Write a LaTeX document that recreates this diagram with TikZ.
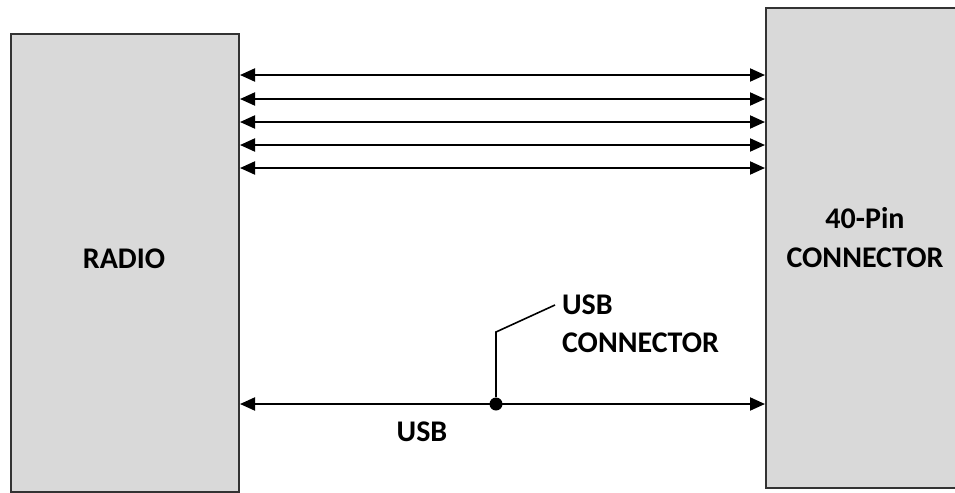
\documentclass[tikz,border=0pt]{standalone}
\usepackage{fontspec}
\setmainfont{Carlito}
\usetikzlibrary{arrows.meta,positioning}

\begin{document}
\begin{tikzpicture}[x=0.5pt, y=-0.5pt,
    block/.style={draw=black!80, fill=black!15, line width=1pt, inner sep=0pt},
    bus/.style={line width=1pt, {Triangle[length=7.5pt,width=6.5pt]}-{Triangle[length=7.5pt,width=6.5pt]}},
    lbl/.style={font=\fontsize{15}{19.5}\selectfont\bfseries, align=center},
    dot/.style={circle, fill, inner sep=0pt, minimum size=6.5pt}]
  \useasboundingbox (0,0) rectangle (955,493);
  \clip (0,0) rectangle (955,493);

  % The two blocks
  \node[block, minimum width=114pt, minimum height=229pt] (radio) at (125,263) {};
  \node[block, minimum width=104pt, minimum height=240pt] (conn) at (870,248) {};
  \node[lbl] (radiotxt) at (124,259) {RADIO};
  \node[lbl] (conntxt) at (865,238) {40-Pin\\CONNECTOR};

  % Signal lines
  \foreach \y in {75,99,122,145,168}
    \draw[bus] (radio.east |- 0,\y) -- (conn.west |- 0,\y);

  % USB line and its connector
  \draw[bus] (radio.east |- 0,404) -- (conn.west |- 0,404);
  \node[dot] (usbdot) at (496,404) {};
  \node[lbl] (usbtxt) at (422,432) {USB};
  \node[lbl, anchor=west] (ucusb) at (555,305) {USB};
  \node[lbl, anchor=west] (ucconn) at (555,343) {CONNECTOR};
  \coordinate (bend) at (496,332);
  \draw[line width=0.8pt] (usbdot) -- (bend) -- (ucusb.west);
\end{tikzpicture}
\end{document}
